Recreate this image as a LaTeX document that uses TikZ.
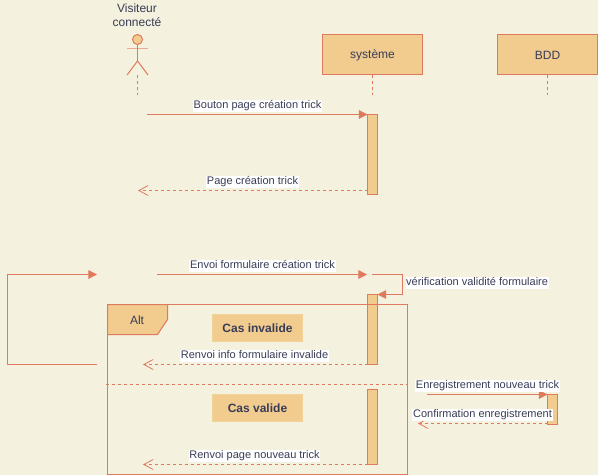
\documentclass[tikz,border=0pt]{standalone}
\usepackage{fontspec}
\setmainfont{Liberation Sans}
\usetikzlibrary{arrows.meta}
\definecolor{fondclair}{HTML}{F4F1DE}
\definecolor{trait}{HTML}{E07A5F}
\definecolor{remplir}{HTML}{F2CC8F}
\definecolor{texte}{HTML}{393C56}
\tikzset{
  every node/.style={outer sep=0pt},
  ligne/.style={draw=trait,line width=0.75pt},
  boite/.style={ligne,fill=remplir,text=texte,anchor=north west,inner sep=0pt,font=\fontsize{9}{10.5}\selectfont},
  activation/.style={ligne,fill=remplir,anchor=north west,inner sep=0pt,minimum width=7.5pt},
  cas/.style={draw=remplir!85!fondclair,line width=0.75pt,fill=remplir,text=texte,anchor=north west,inner sep=0pt,minimum width=67.5pt,minimum height=20.25pt,font=\fontsize{9}{10.5}\selectfont\bfseries},
  message/.style={fill=white,text=texte,inner xsep=0.5pt,inner ysep=0pt,text height=6.75pt,text depth=2.25pt,font=\fontsize{8.25}{9.5}\selectfont},
  appel/.style={ligne,-{Triangle[length=6.5pt,width=6.5pt]}},
  retour/.style={ligne,dash pattern=on 2.25pt off 2.25pt,-{Straight Barb[length=7pt,width=7.5pt,line width=0.6pt]}},
  pointille/.style={ligne,dash pattern=on 2.25pt off 2.25pt}
}
\begin{document}
\begin{tikzpicture}[x=0.75pt,y=-0.75pt]
  \useasboundingbox[fill=fondclair] (0,0) rectangle (598,475);

  % Participants
  \node[text=texte,align=center,font=\fontsize{9}{10.5}\selectfont] (visiteur) at (137,15) {Visiteur\\connecté};
  \node[boite,minimum width=75pt,minimum height=30pt] (systeme) at (322.5,34.5) {\raisebox{-0.75pt}[\height][\depth]{système}};
  \node[boite,minimum width=75pt,minimum height=30pt] (bdd) at (497.5,34.5) {\raisebox{-0.75pt}[\height][\depth]{BDD}};

  % Actor figure
  \node[ligne,circle,fill=remplir,inner sep=0pt,minimum size=7.5pt] (tete) at (137.5,39.5) {};
  \coordinate (brasg) at (127,48);
  \coordinate (brasd) at (148,48);
  \coordinate (hanche) at (137.5,61);
  \coordinate (piedg) at (127,75);
  \coordinate (piedd) at (148,75);
  \draw[draw=trait!60!fondclair,line width=0.75pt] (brasg) -- (brasd);
  \draw[ligne] (tete) -- (hanche);
  \draw[ligne] (piedg) -- (hanche) -- (piedd);

  % Lifelines
  \coordinate (visiteurbas) at (137.5,95);
  \coordinate (visiteurhaut) at (137.5,75);
  \coordinate (systemebas) at (372.5,95);
  \coordinate (bddbas) at (547.5,95);
  \draw[pointille] (visiteurhaut) -- (visiteurbas);
  \draw[pointille] (systeme.south) -- (systemebas);
  \draw[pointille] (bdd.south) -- (bddbas);

  % Activations
  \node[activation,minimum height=60pt] (act1) at (367.5,114.5) {};
  \node[activation,minimum height=52.5pt] (act2) at (367.5,294.5) {};
  \node[activation,minimum height=56.25pt] (act3) at (367.5,389.5) {};
  \node[activation,minimum height=22.5pt] (act4) at (547.5,394.5) {};

  % Alt frame
  \node[ligne,anchor=north west,inner sep=0pt,minimum width=225pt,minimum height=127.5pt] (cadre) at (107.5,304.5) {};
  \coordinate (onglet1) at (167.5,304.5);
  \coordinate (onglet2) at (167.5,319.5);
  \coordinate (onglet3) at (157.5,334.5);
  \coordinate (onglet4) at (107.5,334.5);
  \path[draw=trait,line width=0.75pt,fill=remplir] (cadre.north west) -- (onglet1) -- (onglet2) -- (onglet3) -- (onglet4) -- cycle;
  \node[text=texte,font=\fontsize{9}{10.5}\selectfont] (alt) at (137,320) {Alt};
  \node[cas] (invalide) at (212.5,314.5) {Cas invalide};
  \node[cas] (valide) at (212.5,394.5) {Cas valide};
  \coordinate (sepg) at (106,384.5);
  \coordinate (sepd) at (407.5,384.5);
  \draw[pointille] (sepg) -- (sepd);

  % Messages
  \coordinate (d1) at (147,114.5);
  \coordinate (f2) at (138,190.5);
  \coordinate (d3) at (157,274.5);
  \coordinate (f3) at (367,274.5);
  \coordinate (d4) at (372,274.5);
  \coordinate (c4) at (402.5,274.5);
  \coordinate (e4) at (402.5,294.5);
  \coordinate (d5) at (97,364.5);
  \coordinate (c5a) at (7.5,364.5);
  \coordinate (c5b) at (7.5,274.5);
  \coordinate (f5) at (97,274.5);
  \coordinate (f6) at (143,364.5);
  \coordinate (d7) at (427,394.5);
  \coordinate (f8) at (418,423.5);
  \coordinate (f9) at (143,464.5);

  \draw[appel] (d1) -- (act1.north west);
  \draw[retour] (act1.west |- f2) -- (f2);
  \draw[appel] (d3) -- (f3);
  \draw[appel] (d4) -- (c4) -- (e4) -- (act2.north east);
  \draw[appel] (d5) -- (c5a) -- (c5b) -- (f5);
  \draw[retour] (act2.south west) -- (f6);
  \draw[appel] (d7) -- (act4.north west);
  \draw[retour] (act4.west |- f8) -- (f8);
  \draw[retour] (act3.south west) -- (f9);

  % Labels
  \node[message] (m1) at (257.5,105.5) {Bouton page création trick};
  \node[message] (m2) at (252.5,181.5) {Page création trick};
  \node[message] (m3) at (262.5,265.5) {Envoi formulaire création trick};
  \node[message,anchor=west] (m4) at (405.5,282.5) {vérification validité formulaire};
  \node[message] (m5) at (254.5,355.5) {Renvoi info formulaire invalide};
  \node[message] (m6) at (487.5,385.5) {Enregistrement nouveau trick};
  \node[message] (m7) at (482.5,414.5) {Confirmation enregistrement};
  \node[message] (m8) at (254.5,455.5) {Renvoi page nouveau trick};
\end{tikzpicture}
\end{document}
